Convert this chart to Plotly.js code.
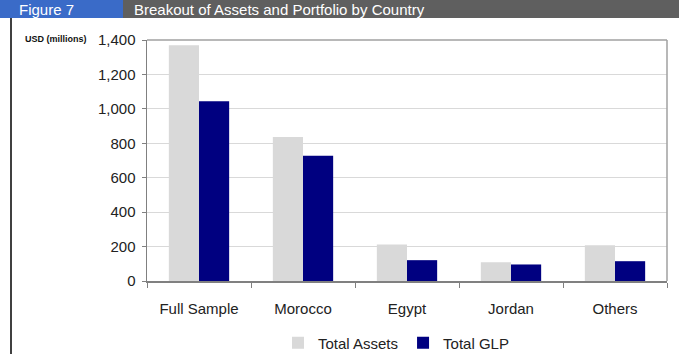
<!DOCTYPE html>
<html>
<head>
<meta charset="utf-8">
<script src="https://cdn.plot.ly/plotly-3.0.1.min.js"></script>
<style>html,body{margin:0;padding:0;background:#fff;}#chart{width:679px;height:354px;}</style>
</head>
<body>
<div id="chart"></div>
<script>
var categories = ["Full Sample", "Morocco", "Egypt", "Jordan", "Others"];
var totalAssets = [1369, 837, 212, 109, 207];
var totalGLP = [1044, 727, 121, 96, 115];
var seriesNames = ["Total Assets", "Total GLP"];
var yTickValues = [0, 200, 400, 600, 800, 1000, 1200, 1400];

var W = 679, H = 354, L = 147, R = 12, T = 40, B = 73;
var pw = W - L - R, ph = H - T - B;
function px(x) { return (x - L) / pw; }
function py(y) { return (H - B - y) / ph; }

var FONT = "Liberation Sans, Arial, sans-serif";

var traces = [
  { type: "bar", name: seriesNames[0], x: categories, y: totalAssets,
    marker: { color: "#d9d9d9", line: { width: 0 } } },
  { type: "bar", name: seriesNames[1], x: categories, y: totalGLP,
    marker: { color: "#000080", line: { width: 0 } } }
];

var layout = {
  width: W, height: H,
  margin: { l: L, r: R, t: T, b: B, pad: 0, autoexpand: false },
  paper_bgcolor: "#ffffff", plot_bgcolor: "#ffffff",
  font: { family: FONT, size: 15, color: "#222" },
  barmode: "group", bargap: 0.42, bargroupgap: 0,
  showlegend: true,
  legend: { orientation: "h", x: px(396), xanchor: "center", y: py(343), yanchor: "middle",
            font: { family: FONT, size: 15, color: "#222" }, bgcolor: "rgba(0,0,0,0)" },
  xaxis: {
    type: "category", showline: true, linecolor: "#808080", linewidth: 1.5, mirror: false,
    ticks: "outside", tickson: "boundaries", ticklen: 5, tickcolor: "#808080",
    showgrid: false, tickfont: { family: FONT, size: 15, color: "#222" },
    ticklabelstandoff: 13
  },
  yaxis: {
    range: [0, 1400], tickvals: yTickValues, tickformat: ",d",
    showline: true, linecolor: "#808080", linewidth: 1.5,
    ticks: "outside", ticklen: 4, tickcolor: "#808080",
    showgrid: true, gridcolor: "#d9d9d9", gridwidth: 1, zeroline: false,
    tickfont: { family: FONT, size: 15, color: "#222" }, ticklabelstandoff: 3
  },
  shapes: [
    { type: "rect", xref: "paper", yref: "paper", x0: px(0), x1: px(123), y0: py(18), y1: py(-2),
      fillcolor: "#3a6bc8", line: { width: 0 }, layer: "below" },
    { type: "rect", xref: "paper", yref: "paper", x0: px(123), x1: px(680), y0: py(18), y1: py(-2),
      fillcolor: "#5f5f5f", line: { width: 0 }, layer: "below" },
    { type: "line", xref: "paper", yref: "paper", x0: px(11), x1: px(11), y0: py(18), y1: py(356),
      line: { color: "#000", width: 1.5 } },
    { type: "line", xref: "paper", yref: "paper", x0: px(147), x1: px(667), y0: py(40), y1: py(40),
      line: { color: "#a0a0a0", width: 1.5 } },
    { type: "line", xref: "paper", yref: "paper", x0: px(667), x1: px(667), y0: py(40), y1: py(281),
      line: { color: "#a0a0a0", width: 1.5 } }
  ],
  annotations: [
    { xref: "paper", yref: "paper", x: px(18), y: py(9.5), xanchor: "left", yanchor: "middle",
      text: "Figure 7", showarrow: false, borderpad: 0, font: { family: FONT, size: 15, color: "#ffffff" } },
    { xref: "paper", yref: "paper", x: px(133), y: py(9.5), xanchor: "left", yanchor: "middle",
      text: "Breakout of Assets and Portfolio by Country", showarrow: false, borderpad: 0,
      font: { family: FONT, size: 15, color: "#ffffff" } },
    { xref: "paper", yref: "paper", x: px(23), y: py(39), xanchor: "left", yanchor: "middle",
      text: "<b>USD (millions)</b>", showarrow: false, font: { family: FONT, size: 9, color: "#111" } }
  ]
};

Plotly.newPlot("chart", traces, layout, { displayModeBar: false, staticPlot: true });
</script>
</body>
</html>
